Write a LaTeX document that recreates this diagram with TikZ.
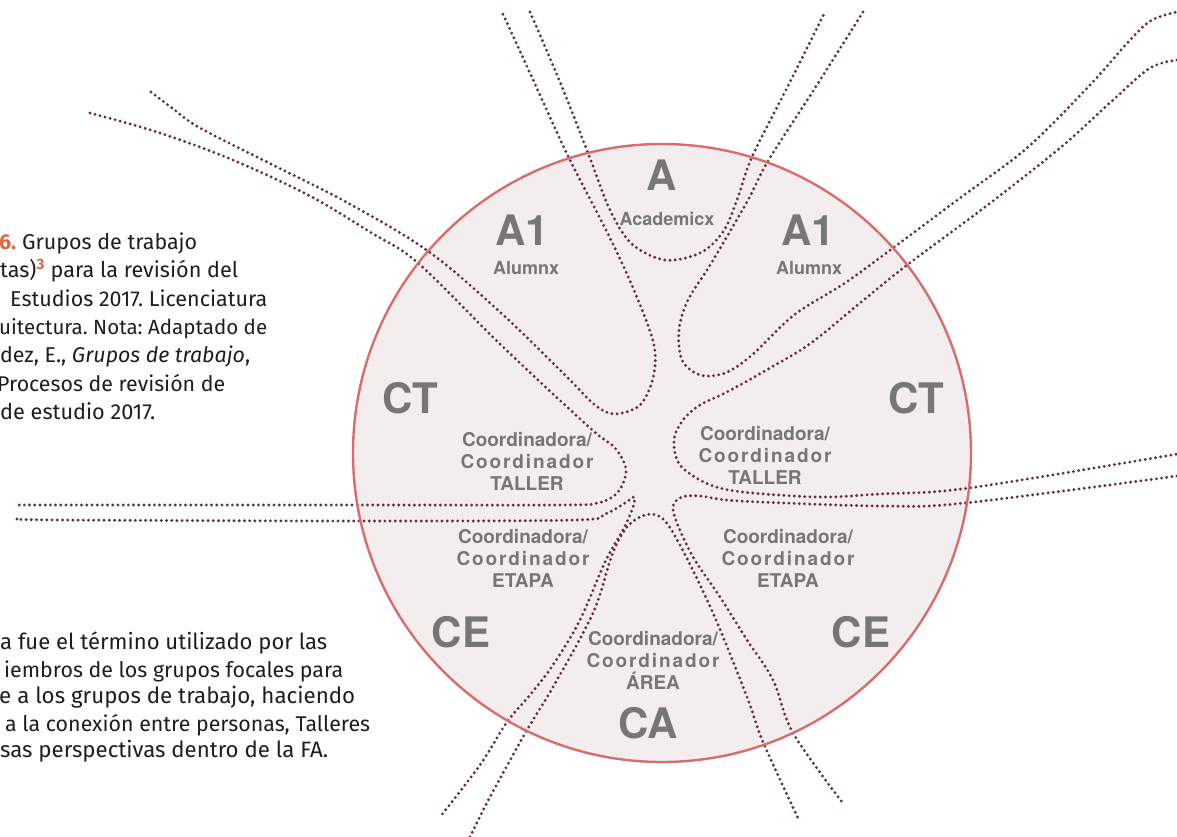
\documentclass[tikz,border=0pt]{standalone}
\usepackage{graphicx}
\usepackage{fontspec}
\setmainfont{Fira Sans}[Numbers=Proportional]
\newfontfamily\helv{TeX Gyre Heros}
\definecolor{dotred}{RGB}{100,46,62}
\definecolor{ringred}{RGB}{214,110,112}
\definecolor{ringfill}{RGB}{244,237,237}
\definecolor{labgray}{RGB}{118,118,118}
\definecolor{capred}{RGB}{224,102,72}
\definecolor{captext}{RGB}{30,30,30}
\frenchspacing
% one cut-off line of running text, brought to the width it has in the page
\newcommand{\fitline}[2]{\resizebox{#1pt}{!}{#2}}

\begin{document}
\begin{tikzpicture}[
            x = 1pt,
            y = -1pt,
            dotline/.style = {draw=dotred, line width=3.2pt, line cap=round,
                dash pattern=on 0pt off 5.2pt},
            ring/.style = {draw=ringred, line width=2.4pt},
            big/.style = {text=labgray, inner sep=0pt, anchor=base,
                font=\helv\bfseries\fontsize{42}{42}\selectfont},
            small/.style = {text=labgray, inner sep=0pt, anchor=base,
                font=\helv\bfseries\fontsize{18}{18}\selectfont},
            role/.style = {text=labgray, inner sep=0pt, anchor=north, align=center,
                font=\helv\bfseries\fontsize{19}{22}\selectfont},
            captxt/.style = {text=captext, inner sep=0pt, anchor=base west,
                font=\fontsize{21}{28}\selectfont}
        ]
        \useasboundingbox[fill=white] (0,0) rectangle (1177,837);

        % the circle
        \fill[ringfill] (662,453) circle[radius=309pt];

        % dotted loops, one per sector
        \draw[dotline] plot[smooth, tension=.55] coordinates {(530,12) (560,82) (588,153) (610,210) (632,244) (665,260) (700,253) (723,232) (737,200) (752,157) (790,82) (825,12)};
        \draw[dotline] plot[smooth, tension=.55] coordinates {(151,92) (172,108) (200,128) (271,164) (348,203) (428,251) (500,312) (565,375) (595,405) (615,414) (640,405) (653,378) (654,345) (636,295) (610,238) (568,156) (535,84) (502,12)};
        \draw[dotline] plot[smooth, tension=.55] coordinates {(863,12) (815,88) (768,161) (748,200) (712,262) (688,300) (679,330) (682,360) (700,375) (725,373) (752,355) (794,315) (845,283) (893,248) (960,198) (1027,148) (1090,85) (1130,40) (1152,20) (1177,12)};
        \draw[dotline] plot[smooth, tension=.55] coordinates {(90,113) (157,132) (233,160) (310,196) (370,232) (418,263) (501,345) (590,428) (615,448) (626,470) (618,492) (598,503) (560,505) (360,505) (17,505)};
        \draw[dotline] plot[smooth, tension=.55] coordinates {(1177,60) (1150,68) (1113,100) (1060,148) (985,207) (907,265) (860,303) (811,343) (770,368) (727,392) (700,405) (683,420) (674,440) (680,465) (708,484) (743,492) (819,497) (880,494) (969,488) (1177,454)};
        \draw[dotline] plot[smooth, tension=.55] coordinates {(17,519) (60,520) (360,521) (575,520) (605,514) (625,503) (634,497) (633,507) (624,528) (605,562) (580,620) (553,665) (530,695) (507,722) (480,765) (440,817)};
        \draw[dotline] plot[smooth, tension=.55] coordinates {(1177,476) (965,503) (880,506) (740,501) (700,496) (682,497) (673,506) (677,523) (693,557) (720,597) (747,640) (773,680) (793,733) (842,802)};
        \draw[dotline] plot[smooth, tension=.55] coordinates {(470,837) (490,797) (527,730) (553,687) (593,613) (612,555) (627,527) (645,515) (662,518) (680,545) (713,613) (747,697) (763,742) (798,818)};

        \draw[ring] (662,453) circle[radius=309pt];

        % sector labels
        \node[big] (a) at (662,190) {A};
        \node[small] (acad) at (667,225) {Academicx};
        \node[big] (a1l) at (522,245) {A1};
        \node[small] (alul) at (526,274) {Alumnx};
        \node[big] (a1r) at (808,245) {A1};
        \node[small] (alur) at (809,274) {Alumnx};
        \node[big] (ctl) at (410,413) {CT};
        \node[big] (ctr) at (916,413) {CT};
        \node[big] (cel) at (461,647) {CE};
        \node[big] (cer) at (861,647) {CE};
        \node[big] (ca) at (648,738) {CA};

        \node[role] (tall) at (527,432) {Coordinadora/\\{\addfontfeature{LetterSpace=10}Coordinador}\\TALLER};
        \node[role] (talr) at (765,426) {Coordinadora/\\{\addfontfeature{LetterSpace=10}Coordinador}\\TALLER};
        \node[role] (etal) at (523,529) {Coordinadora/\\{\addfontfeature{LetterSpace=10}Coordinador}\\ETAPA};
        \node[role] (etar) at (788,529) {Coordinadora/\\{\addfontfeature{LetterSpace=10}Coordinador}\\ETAPA};
        \node[role] (area) at (653,631) {Coordinadora/\\{\addfontfeature{LetterSpace=10}Coordinador}\\ÁREA};

        % caption, cut at the left edge
        \node[captxt] (cap1) at (-1,249) {\fitline{198}{\textcolor{capred}{\bfseries 6.} Grupos de trabajo}};
        \node[captxt] (cap2) at (0,277) {\fitline{238}{tas)\textsuperscript{\textcolor{capred}{\bfseries 3}} para la revisión del}};
        \node[captxt] (cap3) at (10,306) {\fitline{257}{Estudios 2017. Licenciatura}};
        \node[captxt] (cap4) at (-1,334) {\fitline{268}{uitectura. Nota: Adaptado de}};
        \node[captxt] (cap5) at (0,362) {\fitline{250}{dez, E., \textit{Grupos de trabajo},}};
        \node[captxt] (cap6) at (-3,391) {\fitline{228}{Procesos de revisión de}};
        \node[captxt] (cap7) at (0,419) {\fitline{155}{de estudio 2017.}};

        % footnote, cut at the left edge
        \node[captxt] (fn1) at (0,649) {\fitline{327}{a fue el término utilizado por las}};
        \node[captxt] (fn2) at (4,677) {\fitline{339}{iembros de los grupos focales para}};
        \node[captxt] (fn3) at (-1,703) {\fitline{356}{e a los grupos de trabajo, haciendo}};
        \node[captxt] (fn4) at (5,731) {\fitline{365}{a la conexión entre personas, Talleres}};
        \node[captxt] (fn5) at (0,757) {\fitline{328}{sas perspectivas dentro de la FA.}};
    \end{tikzpicture}
\end{document}
